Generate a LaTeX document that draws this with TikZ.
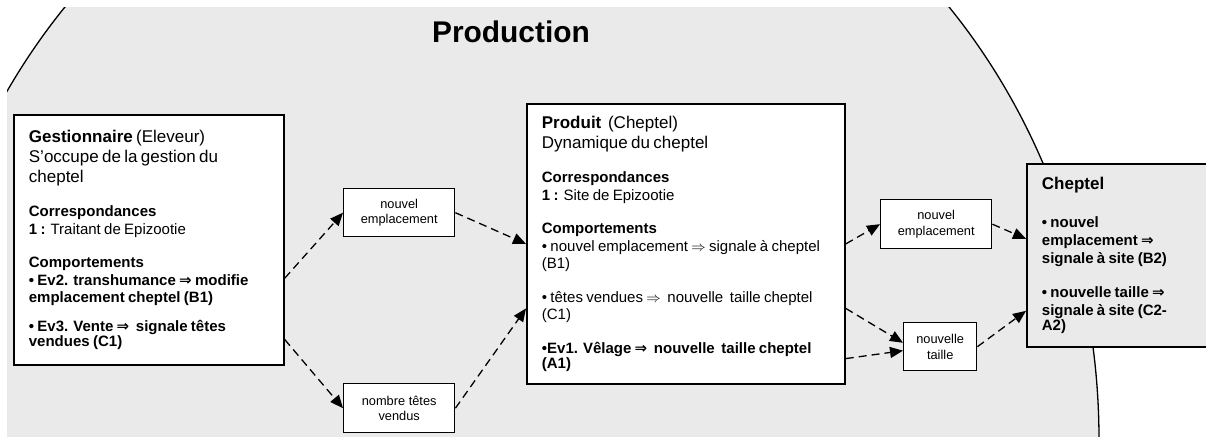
\documentclass[tikz,border=0pt]{standalone}
\usepackage{amsmath}
\usepackage{amssymb}
\usepackage{fontspec}
\setmainfont{Liberation Sans}
\newfontfamily\symb{DejaVu Sans}
\usetikzlibrary{calc}
\usetikzlibrary{arrows.meta}

\definecolor{fond}{RGB}{234,234,234}
\newcommand{\donc}{\ensuremath{\Rightarrow}}
\newcommand{\Donc}{{\symb\bfseries ⇒}}
\newcommand{\grand}{\fontsize{17}{20}\selectfont}
\newcommand{\petit}{\fontsize{15}{17.5}\selectfont}
\newcommand{\saut}{\par\vspace{16pt}}

\begin{document}
\begin{tikzpicture}[x=1pt, y=-1pt,
  cadre/.style={draw, line width=1.8pt, fill=white, anchor=north west, align=left, inner xsep=15pt, inner ysep=0pt},
  etiquette/.style={draw, line width=1.4pt, fill=white, anchor=north west, align=center, inner sep=0pt, font=\fontsize{12.8}{15.5}\selectfont},
  fleche/.style={line width=1.3pt, dash pattern=on 8pt off 5pt, -{Triangle[length=13pt,width=11pt]}}]

\useasboundingbox (0, 0) rectangle (1206, 436);

\begin{scope}
\clip (7, 8) rectangle (1206, 436);
\draw [fill=fond, line width=1.3pt] (507, 440) ellipse [x radius=592, y radius=651];
\end{scope}

\node (titre) at (511, 32) {\fontsize{29.9}{34}\selectfont\bfseries Production};

\node (gest) [cadre, minimum width=270pt, minimum height=250pt, text width=240pt] at (13, 114) {%
\grand \textbf{Gestionnaire} (Eleveur)\\ S’occupe de la gestion du\\ cheptel\par\vspace{17pt}
\petit \textbf{Correspondances}\\ \textbf{1 :} Traitant de Epizootie\saut
\textbf{Comportements}\\ \textbf{• Ev2. transhumance \Donc{} modifie}\\ \textbf{emplacement cheptel (B1)}\par\vspace{11pt}
\textbf{• Ev3. Vente \Donc\ \ signale têtes}\\ \textbf{vendues (C1)}};

\node (produit) [cadre, minimum width=318pt, minimum height=280pt, text width=288pt] at (526, 103) {%
\grand \textbf{Produit}\ \ (Cheptel)\\ Dynamique du cheptel\par\vspace{17pt}
\petit \textbf{Correspondances}\\ \textbf{1 :} Site de Epizootie\saut
\textbf{Comportements}\\ • nouvel emplacement \donc{} signale à cheptel\\ (B1)\saut
• têtes vendues \donc\ \ nouvelle\ \ taille cheptel\\ (C1)\saut
\textbf{•Ev1. Vêlage \Donc\ \ nouvelle\ \ taille cheptel}\\ \textbf{(A1)}};

\node (cheptel) [cadre, fill=fond, minimum width=180pt, minimum height=183pt, text width=150pt] at (1026, 163) {%
\grand \textbf{Cheptel}\par\vspace{20pt}
\fontsize{15}{18}\selectfont \textbf{• nouvel}\\ \textbf{emplacement \Donc}\\ \textbf{signale à site (B2)}\saut
\textbf{• nouvelle taille \Donc}\\ \textbf{signale à site (C2-}\\ \textbf{A2)}};

\node (emplA) [etiquette, minimum width=111pt, minimum height=48pt] at (343, 188) {nouvel\\emplacement};
\node (vendus) [etiquette, minimum width=111pt, minimum height=49pt] at (343, 383) {nombre têtes\\vendus};
\node (emplB) [etiquette, minimum width=111pt, minimum height=49pt] at (880, 199) {nouvel\\emplacement};
\node (taille) [etiquette, minimum width=73pt, minimum height=48pt] at (903, 322) {nouvelle\\taille};

\draw [fleche] ($(gest.north east)!0.652!(gest.south east)$) -- (emplA.west);
\draw [fleche] (emplA.east) -- (produit.west);
\draw [fleche] ($(gest.north east)!0.896!(gest.south east)$) -- (vendus.west);
\draw [fleche] (vendus.east) -- ($(produit.north west)!0.729!(produit.south west)$);

\draw [fleche] (produit.east) -- (emplB.west);
\draw [fleche] (emplB.east) -- ($(cheptel.north west)!0.41!(cheptel.south west)$);
\draw [fleche] ($(produit.north east)!0.729!(produit.south east)$) -- ($(taille.north west)!0.42!(taille.south west)$);
\draw [fleche] ($(produit.north east)!0.907!(produit.south east)$) -- ($(taille.north west)!0.58!(taille.south west)$);
\draw [fleche] (taille.east) -- ($(cheptel.north west)!0.80!(cheptel.south west)$);
\end{tikzpicture}
\end{document}
